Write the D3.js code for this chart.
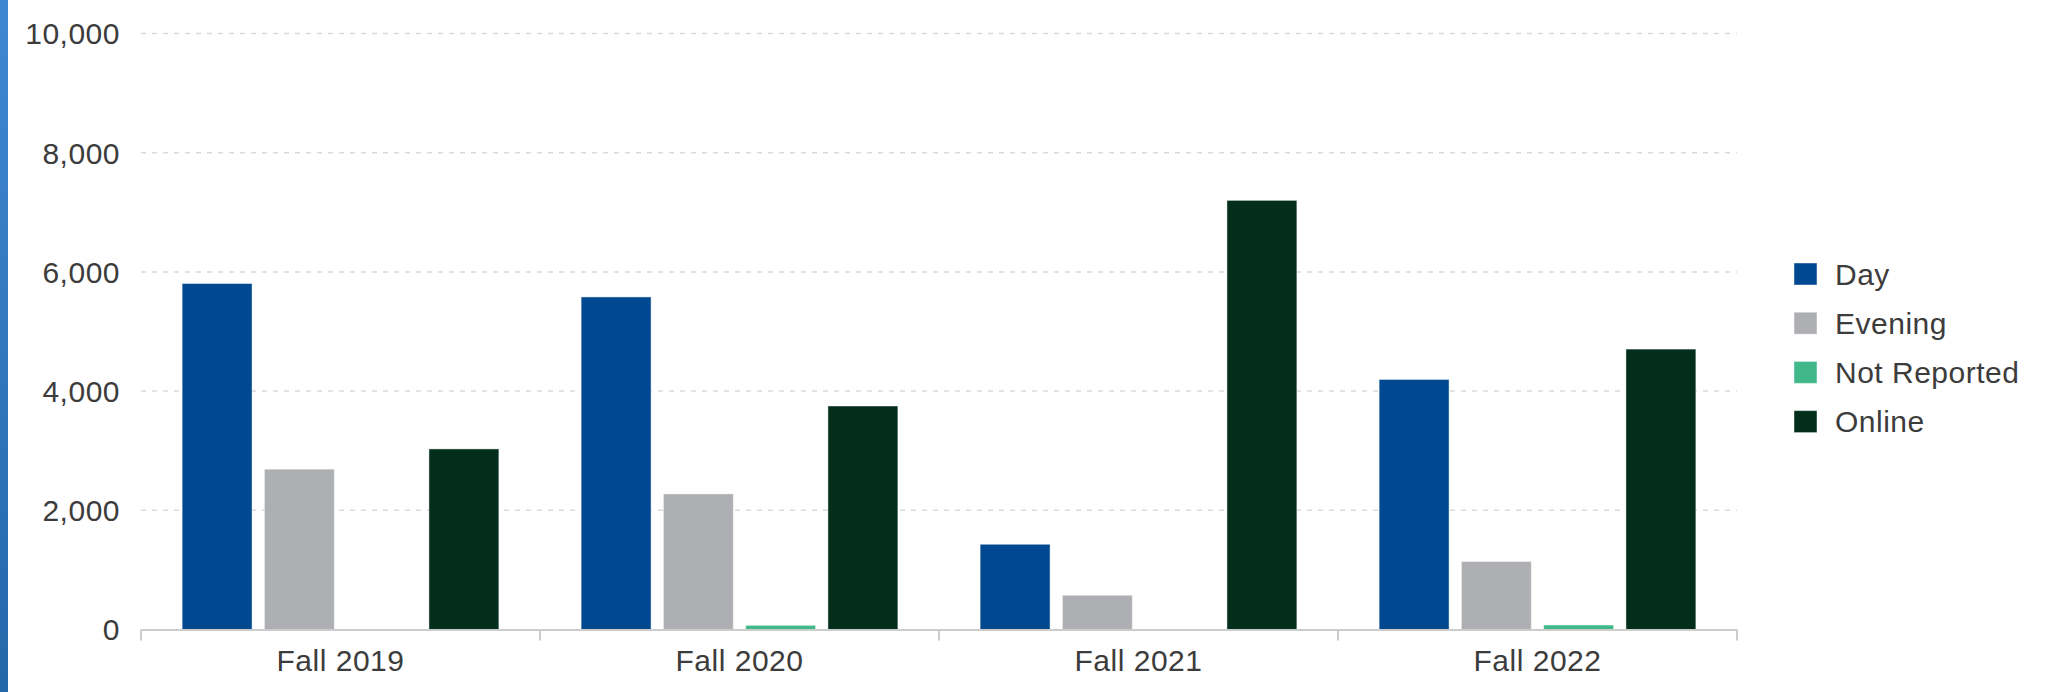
<!DOCTYPE html>
<html>
<head>
<meta charset="utf-8">
<script src="https://cdn.jsdelivr.net/npm/d3@7"></script>
<style>
  html, body { margin: 0; padding: 0; background: #fff; }
  svg { display: block; }
  text { font-family: "Liberation Sans", Arial, sans-serif; fill: #3c3c3c; letter-spacing: 0.5px; }
</style>
</head>
<body>
<script>
const categories = ["Fall 2019", "Fall 2020", "Fall 2021", "Fall 2022"];
const seriesNames = ["Day", "Evening", "Not Reported", "Online"];
const dayValues = [5805, 5580, 1430, 4195];
const eveningValues = [2690, 2275, 575, 1140];
const notReportedValues = [0, 70, 0, 75];
const onlineValues = [3030, 3750, 7200, 4705];
const yTicks = [0, 2000, 4000, 6000, 8000, 10000];
const seriesColors = ["#004990", "#aeafb3", "#41b88a", "#032e1c"];

const seriesValues = [dayValues, eveningValues, notReportedValues, onlineValues];
const data = categories.map((c, i) => ({
  category: c,
  values: seriesNames.map((s, j) => ({ series: s, value: seriesValues[j][i] }))
}));

const W = 2054, H = 692;
const svg = d3.select("body").append("svg").attr("width", W).attr("height", H);

// left accent stripe
const defs = svg.append("defs");
const grad = defs.append("linearGradient").attr("id", "stripe").attr("x1", 0).attr("y1", 0).attr("x2", 0).attr("y2", 1);
grad.append("stop").attr("offset", "0%").attr("stop-color", "#3f88d2");
grad.append("stop").attr("offset", "100%").attr("stop-color", "#2467a9");
svg.append("rect").attr("x", 0).attr("y", 0).attr("width", 8).attr("height", H).attr("fill", "url(#stripe)");

const x0 = d3.scaleBand().domain(categories).range([141, 1737]).padding(0);
const x1 = d3.scaleBand().domain(seriesNames).range([0, x0.bandwidth()]).paddingInner(0.15).paddingOuter(0.5);
const y = d3.scaleLinear().domain([0, 10000]).range([629.5, 33.5]);
const color = d3.scaleOrdinal().domain(seriesNames).range(seriesColors);

// gridlines
svg.append("g").selectAll("line").data(yTicks.filter(t => t > 0)).join("line")
  .attr("x1", 141).attr("x2", 1737)
  .attr("y1", d => y(d)).attr("y2", d => y(d))
  .attr("stroke", "#d9d9d9").attr("stroke-width", 1.5).attr("stroke-dasharray", "5,6");

// y labels
svg.append("g").selectAll("text").data(yTicks).join("text")
  .attr("x", 120).attr("y", d => y(d)).attr("dy", "0.36em")
  .attr("text-anchor", "end").attr("font-size", 30)
  .text(d => d3.format(",")(d));

// bars
const groups = svg.append("g").selectAll("g").data(data).join("g")
  .attr("transform", d => `translate(${x0(d.category)},0)`);
groups.selectAll("rect").data(d => d.values.filter(v => v.value > 0)).join("rect")
  .attr("x", d => x1(d.series))
  .attr("width", x1.bandwidth())
  .attr("y", d => y(d.value))
  .attr("height", d => y(0) - y(d.value))
  .attr("fill", d => color(d.series))
  .attr("stroke", "rgba(255,255,255,0.45)").attr("stroke-width", 1);

// x axis line + ticks
svg.append("line").attr("x1", 141).attr("x2", 1737).attr("y1", y(0) + 0.5).attr("y2", y(0) + 0.5)
  .attr("stroke", "#cccccc").attr("stroke-width", 2);
const tickXs = categories.map(c => x0(c)).concat([x0(categories[categories.length - 1]) + x0.bandwidth()]);
svg.append("g").selectAll("line").data(tickXs).join("line")
  .attr("x1", d => d).attr("x2", d => d)
  .attr("y1", y(0)).attr("y2", y(0) + 11)
  .attr("stroke", "#cccccc").attr("stroke-width", 2);

// x labels
svg.append("g").selectAll("text").data(categories).join("text")
  .attr("x", d => x0(d) + x0.bandwidth() / 2).attr("y", 671)
  .attr("text-anchor", "middle").attr("font-size", 30)
  .text(d => d);

// legend
const legend = svg.append("g").selectAll("g").data(seriesNames).join("g")
  .attr("transform", (d, i) => `translate(1794, ${274 + i * 49.2})`);
legend.append("rect").attr("x", 0).attr("y", -11).attr("width", 23).attr("height", 22)
  .attr("fill", d => color(d)).attr("stroke", "rgba(255,255,255,0.45)").attr("stroke-width", 1);
legend.append("text").attr("x", 41).attr("y", 0).attr("dy", "0.36em")
  .attr("font-size", 30).text(d => d);
</script>
</body>
</html>
